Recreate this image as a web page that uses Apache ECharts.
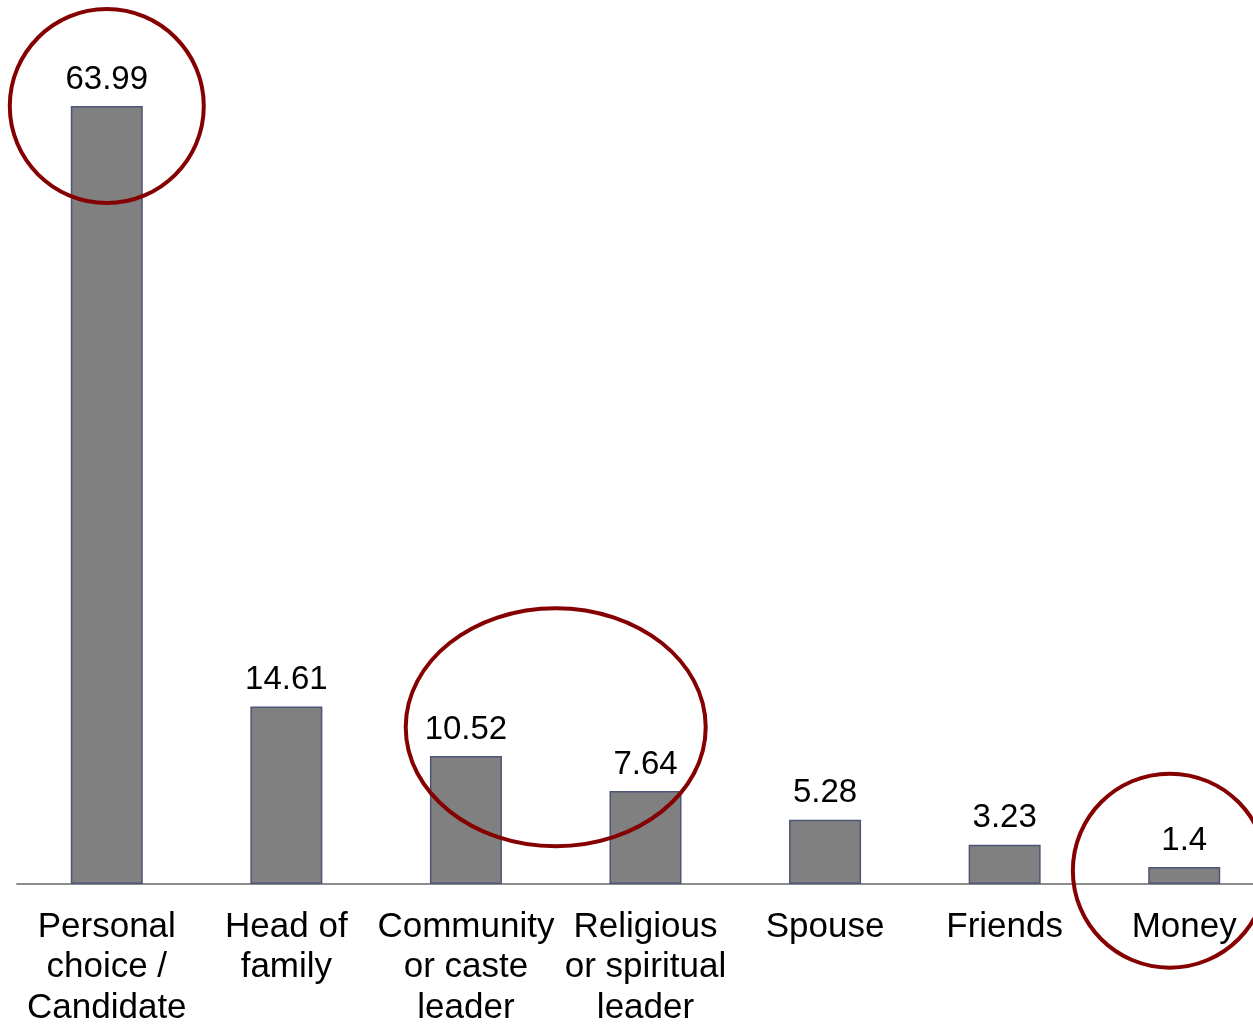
<!DOCTYPE html>
<html>
<head>
<meta charset="utf-8">
<script src="https://cdn.jsdelivr.net/npm/echarts@6/dist/echarts.min.js"></script>
<style>
  html, body { margin: 0; padding: 0; overflow: hidden; background: #fff; }
  #chart { width: 1274px; height: 1024px; }
</style>
</head>
<body>
<div id="chart"></div>
<script>
// categories and values
const categories = [
    'Personal\nchoice /\nCandidate',
    'Head of\nfamily',
    'Community\nor caste\nleader',
    'Religious\nor spiritual\nleader',
    'Spouse',
    'Friends',
    'Money'
];
const values = [63.99, 14.61, 10.52, 7.64, 5.28, 3.23, 1.4];

// red rings drawn over the chart: [category position, value, rx, ry]
const rings = [
    [0, 63.99, 97, 97],
    [2.5, 12.9, 150, 119],
    [5.92, 1.1, 97, 97]
];

const myChart = echarts.init(document.getElementById('chart'));

const option = {
    animation: false,
    grid: {left: 17, right: 0, top: 33, bottom: 140, outerBoundsMode: 'none', containLabel: false},
    xAxis: {
        type: 'category',
        data: categories,
        axisTick: {show: false},
        axisLine: {lineStyle: {color: '#8c8c8c', width: 2}},
        axisLabel: {
            interval: 0,
            margin: 23,
            color: '#000',
            fontFamily: 'Liberation Sans, Arial',
            fontSize: 35,
            lineHeight: 40.5
        }
    },
    yAxis: {
        type: 'value',
        min: 0,
        max: 70,
        show: false,
        splitLine: {show: false}
    },
    series: [
        {
            type: 'bar',
            data: values,
            barWidth: 72,
            itemStyle: {
                color: '#808080',
                borderColor: '#4d5677',
                borderWidth: 1.5
            },
            label: {
                show: true,
                position: 'top',
                distance: 10,
                color: '#000',
                fontFamily: 'Liberation Sans, Arial',
                fontSize: 33
            }
        }
    ]
};

myChart.setOption(option);

// place the rings from data coordinates
const x0 = myChart.convertToPixel({gridIndex: 0}, [0, 0])[0];
const step = myChart.convertToPixel({gridIndex: 0}, [1, 0])[0] - x0;
const graphics = rings.map(r => {
    const y = myChart.convertToPixel({yAxisIndex: 0}, r[1]);
    return {
        type: 'ellipse',
        shape: {cx: x0 + r[0] * step, cy: y, rx: r[2], ry: r[3]},
        style: {fill: null, stroke: '#850000', lineWidth: 4},
        z: 100
    };
});
myChart.setOption({graphic: graphics});
</script>
</body>
</html>
